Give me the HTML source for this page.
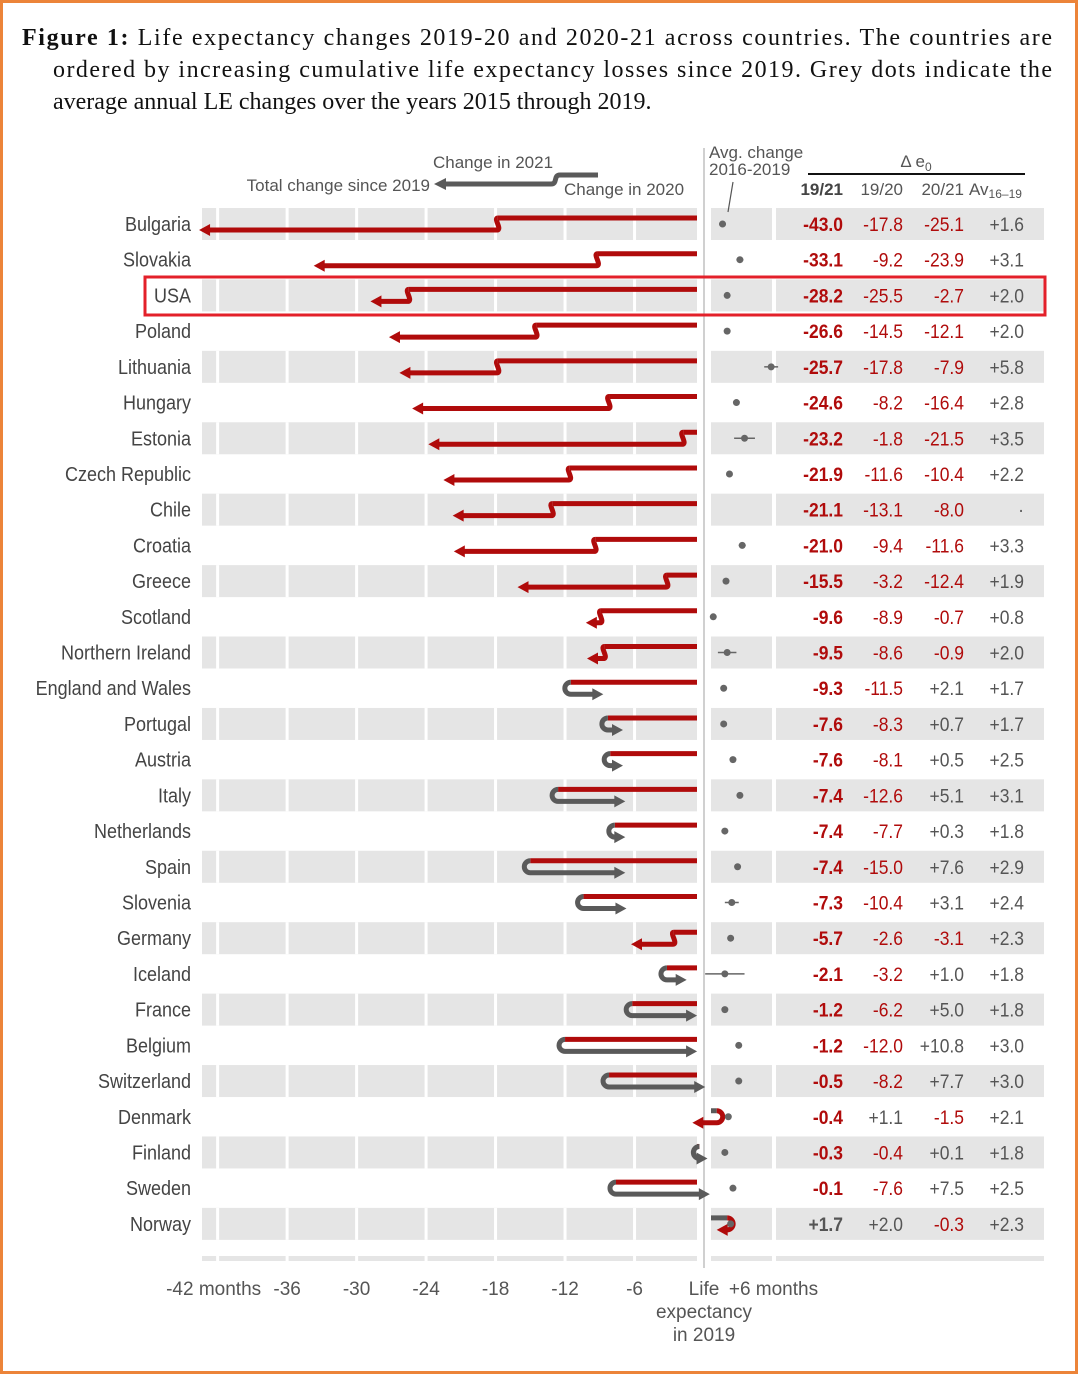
<!DOCTYPE html>
<html><head><meta charset="utf-8"><style>
html,body{margin:0;padding:0;background:#fff;}
#wrap{position:relative;width:1080px;height:1376px;overflow:hidden;}
svg text{font-family:"Liberation Sans Narrow","Liberation Sans",sans-serif;}
</style></head><body>
<div id="wrap">
<svg id="chart" width="1080" height="1376" viewBox="0 0 1080 1376">
<rect x="1.5" y="1.5" width="1075" height="1371" fill="#fff" stroke="#ec8439" stroke-width="3"/>
<g font-family="Liberation Serif, serif" font-size="24" fill="#111">
<text x="22" y="45" textLength="1030" lengthAdjust="spacing" style="font-family:'Liberation Serif',serif"><tspan font-weight="bold">Figure 1:</tspan> Life expectancy changes 2019-20 and 2020-21 across countries.  The countries are</text>
<text x="53" y="77" textLength="999" lengthAdjust="spacing" style="font-family:'Liberation Serif',serif">ordered by increasing cumulative life expectancy losses since 2019.  Grey dots indicate the</text>
<text x="53" y="109" style="font-family:'Liberation Serif',serif">average annual LE changes over the years 2015 through 2019.</text>
</g>
<g id="bands"></g>
<line x1="704" y1="148" x2="704" y2="1268" stroke="#d0d0d0" stroke-width="2"/>
<g id="marks"></g>
<g id="labels"></g>
<g fill="#555" font-size="17">
<text x="433" y="168">Change in 2021</text>
<text x="430" y="191" text-anchor="end">Total change since 2019</text>
<text x="564" y="195">Change in 2020</text>
<path d="M598 175 L560 175 C553 175 558 184 551 184 L446 184" fill="none" stroke="#5a5a5a" stroke-width="5"/>
<polygon points="434,184 446,178 446,190" fill="#5a5a5a"/>
<text x="709" y="158">Avg. change</text>
<text x="709" y="175">2016-2019</text>
<line x1="733" y1="182" x2="728" y2="212" stroke="#555" stroke-width="1.2"/>
<text x="916" y="167" text-anchor="middle">Δ e<tspan font-size="12" dy="4">0</tspan></text>
<line x1="808" y1="174" x2="1025" y2="174" stroke="#111" stroke-width="2"/>
<text x="843" y="195" text-anchor="end" font-weight="bold" fill="#444">19/21</text>
<text x="903" y="195" text-anchor="end">19/20</text>
<text x="964" y="195" text-anchor="end">20/21</text>
<text x="969" y="195">Av<tspan font-size="12" dy="3">16–19</tspan></text>
</g>
<g fill="#555" font-size="19" id="xaxis"></g>
<rect x="145" y="277" width="900" height="38" fill="none" stroke="#e3202a" stroke-width="3"/>
</svg>
</div>
<script>
const countries=["Bulgaria","Slovakia","USA","Poland","Lithuania","Hungary","Estonia","Czech Republic","Chile","Croatia","Greece","Scotland","Northern Ireland","England and Wales","Portugal","Austria","Italy","Netherlands","Spain","Slovenia","Germany","Iceland","France","Belgium","Switzerland","Denmark","Finland","Sweden","Norway"];
const total=[-43.0,-33.1,-28.2,-26.6,-25.7,-24.6,-23.2,-21.9,-21.1,-21.0,-15.5,-9.6,-9.5,-9.3,-7.6,-7.6,-7.4,-7.4,-7.4,-7.3,-5.7,-2.1,-1.2,-1.2,-0.5,-0.4,-0.3,-0.1,1.7];
const change2020=[-17.8,-9.2,-25.5,-14.5,-17.8,-8.2,-1.8,-11.6,-13.1,-9.4,-3.2,-8.9,-8.6,-11.5,-8.3,-8.1,-12.6,-7.7,-15.0,-10.4,-2.6,-3.2,-6.2,-12.0,-8.2,1.1,-0.4,-7.6,2.0];
const change2021=[-25.1,-23.9,-2.7,-12.1,-7.9,-16.4,-21.5,-10.4,-8.0,-11.6,-12.4,-0.7,-0.9,2.1,0.7,0.5,5.1,0.3,7.6,3.1,-3.1,1.0,5.0,10.8,7.7,-1.5,0.1,7.5,-0.3];
const avgChange=[1.6,3.1,2.0,2.0,5.8,2.8,3.5,2.2,null,3.3,1.9,0.8,2.0,1.7,1.7,2.5,3.1,1.8,2.9,2.4,2.3,1.8,1.8,3.0,3.0,2.1,1.8,2.5,2.3];
const avgErr=[0.3,0.3,0,0,0.6,0,0.9,0,0,0.3,0,0,0.8,0,0,0,0,0,0,0.6,0,1.7,0,0,0,0,0,0,0];
const tickVals=[-42,-36,-30,-24,-18,-12,-6];
const tickLabels=["-42 months","-36","-30","-24","-18","-12","-6"];

const NS="http://www.w3.org/2000/svg";
const X0=704, PXM=11.58, Y0=224, DY=35.71;
const RED="#b00b0b", GREY="#5a5a5a";
function xs(v){return X0+v*PXM;}
function ys(i){return Y0+i*DY;}
function mk(tag,attrs,parent){const e=document.createElementNS(NS,tag);for(const k in attrs)e.setAttribute(k,attrs[k]);parent.appendChild(e);return e;}
function fmt(v){return (v>0?"+":"")+v.toFixed(1);}
const bands=document.getElementById('bands'),marks=document.getElementById('marks'),labels=document.getElementById('labels'),xaxis=document.getElementById('xaxis');

function bandRow(y,h,name){
  let r=mk('rect',{x:202,y:y,width:495,height:h,fill:"#e5e5e5"},bands);
  
  
  r=mk('rect',{x:711,y:y,width:61,height:h,fill:"#e5e5e5"},bands);
  
  
  r=mk('rect',{x:776,y:y,width:268,height:h,fill:"#e5e5e5"},bands);
  
  
  tickVals.forEach(t=>{
    const g=mk('rect',{x:xs(t)-1.5,y:y,width:3,height:h,fill:"#fff"},bands);
    
    
  });
}
countries.forEach((c,i)=>{ if(i%2===0) bandRow(ys(i)-16,32,c.toLowerCase().replace(/ /g,'-')); });
bandRow(1256,5,'bottom');

function arrowHead(x,y,dir,col,name){
  const p=mk('polygon',{points:`${x},${y} ${x-dir*11},${y-6} ${x-dir*11},${y+6}`,fill:col},marks);
  
  
}

countries.forEach((c,i)=>{
  const y=ys(i), slug=c.toLowerCase().replace(/ /g,'-');
  const a=change2020[i], b=change2021[i], t=total[i];
  const d1=a<0?-1:1, d2=b<0?-1:1;
  const x1=xs(a), x2=xs(t)+d2*7;
  const c1=a<0?RED:GREY, c2=b<0?RED:GREY;
  const start=a<0?697:711;
  const yu=y-6, yl=y+6;
  let p=mk('path',{d:`M${start} ${yu} L${x1} ${yu}`,fill:"none",stroke:c1,"stroke-width":5},marks);
  
  
  let d;
  const endx=x2-d2*10;
  if(d1===d2){
    d=`M${x1} ${yu} C${x1+d1*5} ${yu} ${x1-d1*5} ${yl} ${x1+d1*1} ${yl} L${endx} ${yl}`;
  } else {
    d=`M${x1} ${yu} A6 6 0 0 ${d1<0?0:1} ${x1} ${yl} L${endx} ${yl}`;
  }
  p=mk('path',{d:d,fill:"none",stroke:c2,"stroke-width":5},marks);
  
  
  arrowHead(x2,yl,d2,c2,slug+'-total-arrowhead');
  if(avgChange[i]!==null){
    const ax=xs(avgChange[i]);
    if(avgErr[i]>0){
      const l=mk('line',{x1:xs(avgChange[i]-avgErr[i]),x2:xs(avgChange[i]+avgErr[i]),y1:y,y2:y,stroke:"#666","stroke-width":1.5},marks);
      
      
    }
    const dot=mk('circle',{cx:ax,cy:y,r:3.5,fill:"#666"},marks);
    
    
  }
  let tx=mk('text',{x:0,y:0,"text-anchor":"end","font-size":20,fill:"#444",transform:`translate(191,${y+7}) scale(0.9,1)`},labels);
  tx.textContent=c;
  
  
  const cols=[[843,t,true],[903,a,false],[964,b,false],[1024,avgChange[i],false]];
  cols.forEach((col,k)=>{
    const v=col[1];
    const e=mk('text',{x:0,y:0,transform:`translate(${col[0]},${y+7}) scale(0.92,1)`,"text-anchor":"end","font-size":19,fill:(v!==null&&v<0)?RED:"#555","font-weight":col[2]?"bold":"normal"},labels);
    e.textContent=v===null?"·":fmt(v);
    
    
  });
});

tickVals.forEach((t,k)=>{
  const e=mk('text',{x:k===0?xs(t)-4:xs(t),y:1295,"text-anchor":"middle"},xaxis);
  e.textContent=tickLabels[k];
  
  
});
[["Life",704,1295],["expectancy",704,1318],["in 2019",704,1341],["+6 months",xs(6),1295]].forEach((s,k)=>{
  const e=mk('text',{x:s[1],y:s[2],"text-anchor":"middle"},xaxis);
  e.textContent=s[0];
  
  
});
</script>
</body></html>
